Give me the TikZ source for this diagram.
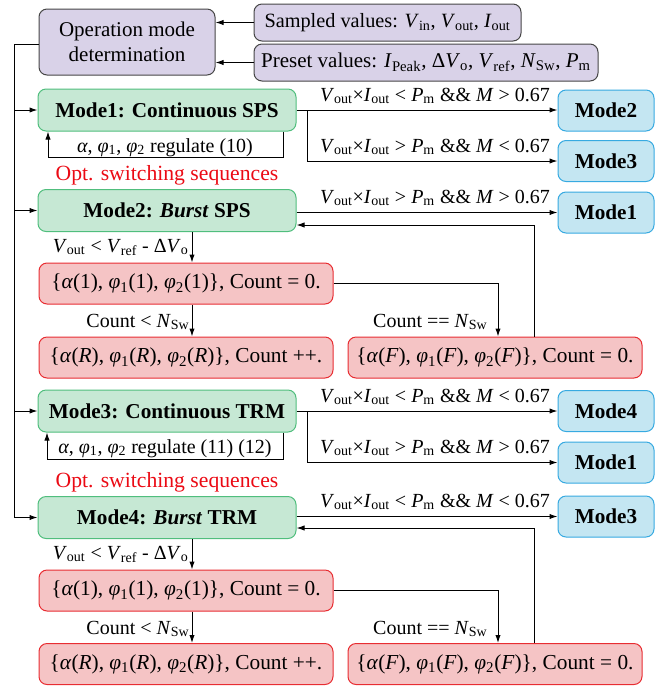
\documentclass[tikz,border=0pt]{standalone}
\usepackage{fontspec}
\setmainfont{Liberation Serif}
\usetikzlibrary{arrows.meta}

\definecolor{purpfill}{RGB}{217,210,232}
\definecolor{purpdraw}{RGB}{70,70,70}
\definecolor{greenfill}{RGB}{198,232,212}
\definecolor{greendraw}{RGB}{80,190,125}
\definecolor{bluefill}{RGB}{196,230,242}
\definecolor{bluedraw}{RGB}{55,170,225}
\definecolor{redfill}{RGB}{245,196,197}
\definecolor{reddraw}{RGB}{232,45,50}
\definecolor{opttext}{RGB}{235,10,20}

\newcommand{\vsub}[2]{\textit{#1}\textsubscript{#2}}

\tikzset{every picture/.style={line width=0.75pt}}
\tikzset{
  box/.style={draw, rounded corners=6pt, align=center, inner sep=0pt,
    font=\fontsize{15.75}{18.75}\selectfont},
  inbox/.style={box, fill=purpfill, draw=purpdraw, minimum height=27.75pt},
  modebox/.style={box, fill=greenfill, draw=greendraw, minimum width=193.5pt, minimum height=31.5pt,
    font=\fontsize{15.9}{18.75}\selectfont\bfseries},
  nextbox/.style={modebox, fill=bluefill, draw=bluedraw, minimum width=72pt, minimum height=30.75pt},
  seqbox/.style={box, fill=redfill, draw=reddraw, minimum width=220.5pt, minimum height=30.75pt,
    font=\fontsize{16}{18.75}\selectfont},
  cond/.style={inner sep=0pt, font=\fontsize{15}{18}\selectfont},
  opt/.style={cond, text=opttext, font=\fontsize{16.25}{18}\selectfont},
}

\begin{document}
\begin{tikzpicture}[x=0.75pt,y=0.75pt,yscale=-1,xscale=1,>={Latex[length=6pt,width=4pt]}]
	\useasboundingbox (0,0) rectangle (665,687);

	% input boxes
	\node[inbox, minimum width=132pt, minimum height=49.5pt] (opm) at (127,42) {Operation mode\\determination};
	\node[inbox, minimum width=200.25pt, font=\fontsize{15.2}{18}\selectfont] (samp) at (387.5,22.5) {Sampled values: \vsub{V}{in}, \vsub{V}{out}, \vsub{I}{out}};
	\node[inbox, minimum width=258pt] (pres) at (426,62.5) {Preset values: \vsub{I}{Peak}, Δ\vsub{V}{o}, \vsub{V}{ref}, \vsub{N}{Sw}, \vsub{P}{m}};

	% mode boxes
	\node[modebox] (m1) at (167,110) {Mode1: Continuous SPS};
	\node[modebox] (m2) at (167,210.5) {Mode2: \textit{Burst} SPS};
	\node[modebox] (m3) at (167,411) {Mode3: Continuous TRM};
	\node[modebox] (m4) at (167,517.5) {Mode4: \textit{Burst} TRM};

	% next mode boxes
	\node[nextbox] (n12) at (606,110.5) {Mode2};
	\node[nextbox] (n13) at (606,161) {Mode3};
	\node[nextbox] (n21) at (606,212.5) {Mode1};
	\node[nextbox] (n34) at (606,411) {Mode4};
	\node[nextbox] (n31) at (606,462.5) {Mode1};
	\node[nextbox] (n43) at (606,516.5) {Mode3};

	% switching sequence boxes
	\node[seqbox] (s2) at (186,283.5) {\{\textit{α}(1), \textit{φ}\textsubscript{1}(1), \textit{φ}\textsubscript{2}(1)\}, Count = 0.};
	\node[seqbox] (r2) at (186,357.5) {\{\textit{α}(\textit{R}), \textit{φ}\textsubscript{1}(\textit{R}), \textit{φ}\textsubscript{2}(\textit{R})\}, Count ++.};
	\node[seqbox] (f2) at (495,357.5) {\{\textit{α}(\textit{F}), \textit{φ}\textsubscript{1}(\textit{F}), \textit{φ}\textsubscript{2}(\textit{F})\}, Count = 0.};
	\node[seqbox] (s4) at (186,590.5) {\{\textit{α}(1), \textit{φ}\textsubscript{1}(1), \textit{φ}\textsubscript{2}(1)\}, Count = 0.};
	\node[seqbox] (r4) at (186,664) {\{\textit{α}(\textit{R}), \textit{φ}\textsubscript{1}(\textit{R}), \textit{φ}\textsubscript{2}(\textit{R})\}, Count ++.};
	\node[seqbox] (f4) at (495,664) {\{\textit{α}(\textit{F}), \textit{φ}\textsubscript{1}(\textit{F}), \textit{φ}\textsubscript{2}(\textit{F})\}, Count = 0.};

	% Text Node
	\node[opt] (o2) at (167,175) {Opt. switching sequences};
	% Text Node
	\node[opt] (o4) at (167,482) {Opt. switching sequences};

	% helper coordinates
	\coordinate (bus) at (14,44);
	\coordinate (br1) at (307,110);
	\coordinate (br3) at (307,411);
	\coordinate (col) at (192,0);
	\coordinate (fa1) at (283,157);
	\coordinate (fb1) at (48,157);
	\coordinate (fa3) at (283,459);
	\coordinate (fb3) at (47,459);
	\coordinate (ret2) at (534,225);
	\coordinate (ret4) at (534,528);

	%Straight Lines: inputs and bus
	\draw[->] (samp.west) -- (samp.west -| opm.east);
	\draw[->] (pres.west) -- (pres.west -| opm.east);
	\draw (opm.west |- bus) -- (bus) -- (bus |- m4.west);
	\foreach \m in {m1,m2,m3,m4}
		\draw[->] (bus |- \m.west) -- (\m.west);

	%Straight Lines: mode transitions
	\draw[->] (m1.east) -- (m1.east -| n12.west);
	\draw[->] (br1) |- (n13.west);
	\draw[->] (n21.west -| m2.east) -- (n21.west);
	\draw[->] (m3.east) -- (m3.east -| n34.west);
	\draw[->] (br3) |- (n31.west);
	\draw[->] (n43.west -| m4.east) -- (n43.west);

	%Straight Lines: regulate loops
	\draw[->] (fa1 |- m1.south) -- (fa1) -- (fb1) -- (fb1 |- m1.south);
	\draw[->] (fa3 |- m3.south) -- (fa3) -- (fb3) -- (fb3 |- m3.south);

	%Straight Lines: burst sequences
	\draw[->] (m2.south -| col) -- (s2.north -| col);
	\draw[->] (s2.south -| col) -- (r2.north -| col);
	\draw[->] (s2.east) -| ([xshift=2.25pt]f2.north);
	\draw[->] (f2.north -| ret2) -- (ret2) -- (ret2 -| m2.east);
	\draw[->] (m4.south -| col) -- (s4.north -| col);
	\draw[->] (s4.south -| col) -- (r4.north -| col);
	\draw[->] (s4.east) -| ([xshift=2.25pt]f4.north);
	\draw[->] (f4.north -| ret4) -- (ret4) -- (ret4 -| m4.east);

	% Text Node
	\node[cond, anchor=base] at (435,101) {\vsub{V}{out}×\vsub{I}{out} < \vsub{P}{m} \&\& \textit{M} > 0.67};
	\node[cond, anchor=base] at (435,152) {\vsub{V}{out}×\vsub{I}{out} > \vsub{P}{m} \&\& \textit{M} < 0.67};
	\node[cond, anchor=base] at (435,203) {\vsub{V}{out}×\vsub{I}{out} > \vsub{P}{m} \&\& \textit{M} > 0.67};
	\node[cond, anchor=base] at (435,402) {\vsub{V}{out}×\vsub{I}{out} < \vsub{P}{m} \&\& \textit{M} < 0.67};
	\node[cond, anchor=base] at (435,453) {\vsub{V}{out}×\vsub{I}{out} > \vsub{P}{m} \&\& \textit{M} > 0.67};
	\node[cond, anchor=base] at (435,507) {\vsub{V}{out}×\vsub{I}{out} < \vsub{P}{m} \&\& \textit{M} < 0.67};
	% Text Node
	\node[cond, anchor=base] at (165,152) {\textit{α}, \textit{φ}\textsubscript{1}, \textit{φ}\textsubscript{2} regulate (10)};
	\node[cond, anchor=base] at (165,453) {\textit{α}, \textit{φ}\textsubscript{1}, \textit{φ}\textsubscript{2} regulate (11) (12)};
	% Text Node
	\node[cond, anchor=base east] at (189,252) {\vsub{V}{out} < \vsub{V}{ref} - Δ\vsub{V}{o}};
	\node[cond, anchor=base east] at (190,327) {Count < \vsub{N}{Sw}};
	\node[cond, anchor=base east] at (488,327) {Count == \vsub{N}{Sw}};
	\node[cond, anchor=base east] at (189,559) {\vsub{V}{out} < \vsub{V}{ref} - Δ\vsub{V}{o}};
	\node[cond, anchor=base east] at (190,634) {Count < \vsub{N}{Sw}};
	\node[cond, anchor=base east] at (488,634) {Count == \vsub{N}{Sw}};
\end{tikzpicture}
\end{document}
